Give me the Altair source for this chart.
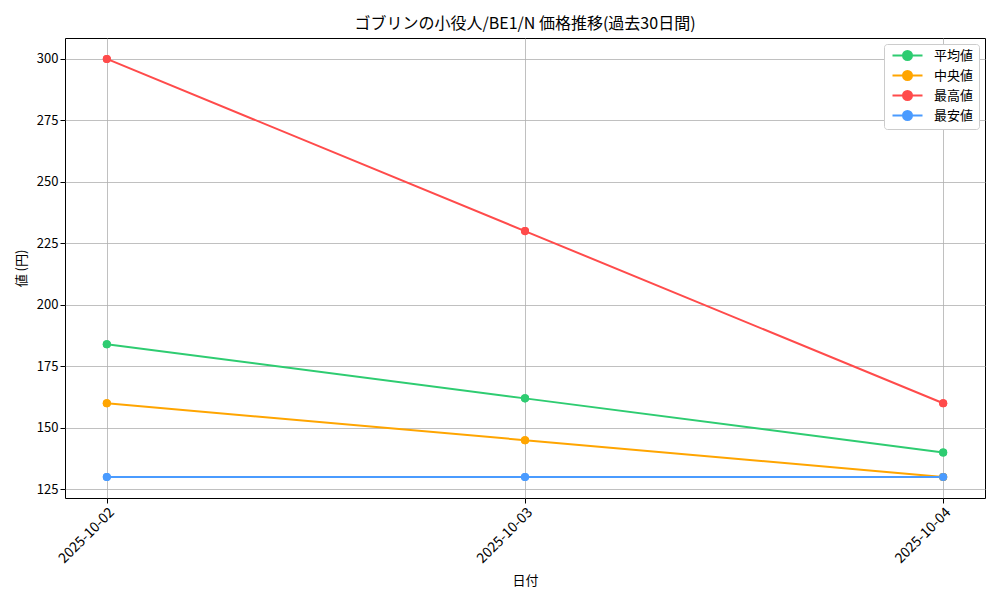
import altair as alt
import pandas as pd

dates = ["2025-10-02", "2025-10-03", "2025-10-04"]
series = ["平均値", "中央値", "最高値", "最安値"]
avg_vals = [184, 162, 140]
median_vals = [160, 145, 130]
max_vals = [300, 230, 160]
min_vals = [130, 130, 130]
colors = ["#2ecc71", "#ffa500", "#ff4b4b", "#4a9bff"]
y_ticks = [125, 150, 175, 200, 225, 250, 275, 300]

rows = []
for name, vals in zip(series, [avg_vals, median_vals, max_vals, min_vals]):
    for d, v in zip(dates, vals):
        rows.append({"date": d, "value": v, "series": name})
df = pd.DataFrame(rows)

FONT = "Noto Sans CJK JP"

x_domain = [
    alt.DateTime(year=2025, month=10, date=1, hours=21, minutes=36, utc=True),
    alt.DateTime(year=2025, month=10, date=4, hours=2, minutes=24, utc=True),
]
x_values = [alt.DateTime(year=2025, month=10, date=int(d[-2:]), utc=True) for d in dates]

x_enc = alt.X(
    "date:T",
    title="日付",
    scale=alt.Scale(type="utc", domain=x_domain),
    axis=alt.Axis(
        values=x_values,
        labelExpr="utcFormat(datum.value, '%Y-%m-%d')",
        labelAngle=-45,
        labelAlign="right",
        labelBaseline="top",
        labelPadding=2,
        labelFontSize=14,
        titlePadding=9,
    ),
)
y_enc = alt.Y(
    "value:Q",
    title="値 (円)",
    scale=alt.Scale(domain=[121.5, 308.5], nice=False, zero=False),
    axis=alt.Axis(values=y_ticks, titlePadding=8),
)

legend_path = "M-3,0L3,0M-0.9,0a0.9,0.9 0 1,0 1.8,0a0.9,0.9 0 1,0 -1.8,0"
color_enc = alt.Color(
    "series:N",
    scale=alt.Scale(domain=series, range=colors),
    legend=alt.Legend(
        title=None,
        orient="top-right",
        offset=6,
        symbolType=legend_path,
        symbolSize=100,
        symbolStrokeWidth=2,
        symbolOffset=12,
        labelOffset=20,
        labelFontSize=13,
        labelFont=FONT,
        padding=5,
        rowPadding=3,
        strokeColor="#cccccc",
        fillColor="white",
        cornerRadius=3,
    ),
    sort=series,
)

base = alt.Chart(df).encode(x=x_enc, y=y_enc, color=color_enc)
lines = base.mark_line(strokeWidth=2)
points = base.mark_circle(size=65, opacity=1)

chart = (
    alt.layer(points, lines, points)
    .properties(
        width=920,
        height=460,
        title=alt.TitleParams("ゴブリンの小役人/BE1/N 価格推移(過去30日間)", fontSize=16, font=FONT, fontWeight="normal", offset=6),
        autosize=alt.AutoSizeParams(type="none"),
        padding={"left": 57, "top": 30, "right": 7, "bottom": 94},
    )
    .configure(font=FONT)
    .configure_view(stroke="black", strokeWidth=1)
    .configure_axis(
        grid=True,
        gridColor="#b0b0b0",
        gridWidth=0.8,
        domain=False,
        tickColor="black",
        tickSize=5,
        labelFontSize=13,
        labelFont=FONT,
        labelColor="black",
        titleFontSize=13,
        titleFont=FONT,
        titleFontWeight="normal",
        titleColor="black",
    )
)

chart.save("out.html", embed_options={"renderer": "svg", "actions": False})
